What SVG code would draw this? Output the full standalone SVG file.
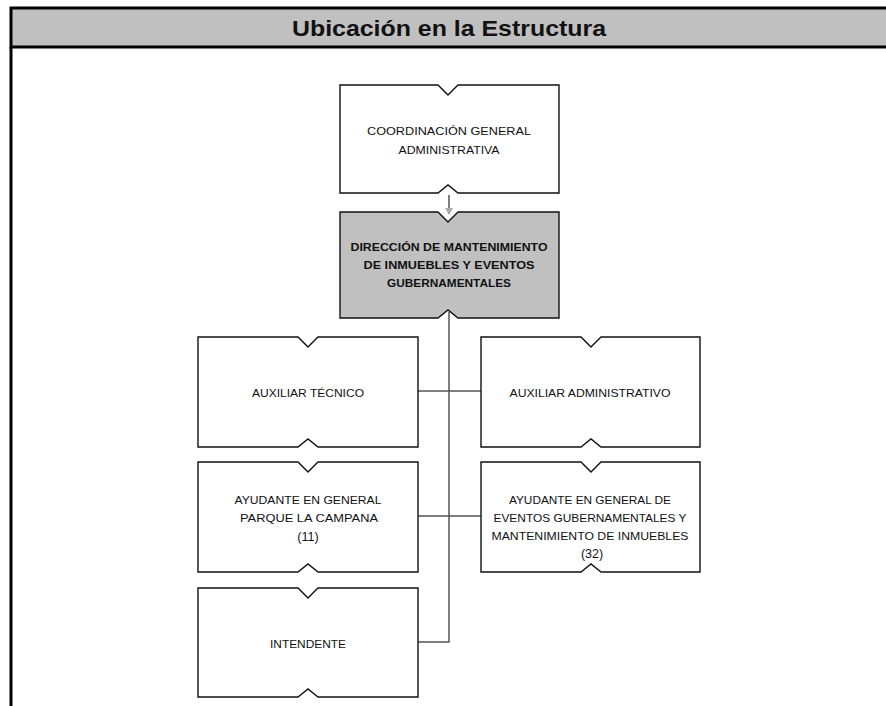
<svg xmlns="http://www.w3.org/2000/svg" width="886" height="706" viewBox="0 0 886 706">
<style>
.node{fill:#fff;stroke:#111;stroke-width:1.4}
.node.hl{fill:#c0c0c0}
.t{font-family:"Liberation Sans",Arial,sans-serif;font-size:11px;fill:#111;text-anchor:middle}
.b{font-weight:bold}
.n{font-size:12.5px}
.conn{stroke:#555;stroke-width:1.5;fill:none}
</style>
<defs>
<marker id="arr" markerWidth="8" markerHeight="8" refX="6" refY="4" orient="auto" markerUnits="userSpaceOnUse">
<path d="M0,0 L7,4 L0,8 Z" fill="#aaa"/>
</marker>
</defs>
<rect x="0" y="0" width="886" height="706" fill="#fff"/>
<g id="frame">
<rect x="11" y="8" width="880" height="39" fill="#c0c0c0" stroke="#000" stroke-width="3"/>
<line x1="11" y1="47" x2="11" y2="706" stroke="#000" stroke-width="3"/>
<text x="449" y="36" font-family="Liberation Sans,Arial,sans-serif" font-size="22" font-weight="bold" text-anchor="middle" fill="#111" textLength="314" lengthAdjust="spacingAndGlyphs">Ubicación en la Estructura</text>
</g>
<g id="connectors">
<line class="conn" x1="449" y1="195" x2="449" y2="214" marker-end="url(#arr)"/>
<path class="conn" d="M449,312 V642 H418"/>
<line class="conn" x1="418" y1="391" x2="481" y2="391"/>
<line class="conn" x1="418" y1="516" x2="481" y2="516"/>
</g>
<g id="n-coord">
<path class="node" d="M340,85 H438 L448,95 L458,85 H559 V193 H458 L448,185 L438,193 H340 Z"/>
<text class="t" x="449" y="135" textLength="164" lengthAdjust="spacingAndGlyphs">COORDINACIÓN GENERAL</text>
<text class="t" x="449" y="154" textLength="101" lengthAdjust="spacingAndGlyphs">ADMINISTRATIVA</text>
</g>
<g id="n-direccion">
<path class="node hl" d="M340,212 H438 L448,222 L458,212 H559 V318 H458 L448,310 L438,318 H340 Z"/>
<text class="t b" x="449" y="251" textLength="197" lengthAdjust="spacingAndGlyphs">DIRECCIÓN DE MANTENIMIENTO</text>
<text class="t b" x="449" y="269" textLength="171" lengthAdjust="spacingAndGlyphs">DE INMUEBLES Y EVENTOS</text>
<text class="t b" x="449" y="287" textLength="124" lengthAdjust="spacingAndGlyphs">GUBERNAMENTALES</text>
</g>
<g id="n-aux-tecnico">
<path class="node" d="M198,337 H298 L308,347 L318,337 H418 V447 H318 L308,439 L298,447 H198 Z"/>
<text class="t" x="308" y="397" textLength="112" lengthAdjust="spacingAndGlyphs">AUXILIAR TÉCNICO</text>
</g>
<g id="n-aux-admin">
<path class="node" d="M481,337 H581 L591,347 L601,337 H700 V447 H601 L591,439 L581,447 H481 Z"/>
<text class="t" x="590" y="397" textLength="161" lengthAdjust="spacingAndGlyphs">AUXILIAR ADMINISTRATIVO</text>
</g>
<g id="n-ayud-parque">
<path class="node" d="M198,462 H298 L308,472 L318,462 H418 V572 H318 L308,564 L298,572 H198 Z"/>
<text class="t" x="308" y="504" textLength="147" lengthAdjust="spacingAndGlyphs">AYUDANTE EN GENERAL</text>
<text class="t" x="309" y="522" textLength="138" lengthAdjust="spacingAndGlyphs">PARQUE LA CAMPANA</text>
<text class="t n" x="308" y="541">(11)</text>
</g>
<g id="n-ayud-eventos">
<path class="node" d="M481,462 H581 L591,472 L601,462 H700 V572 H601 L591,564 L581,572 H481 Z"/>
<text class="t" x="590" y="504" textLength="162" lengthAdjust="spacingAndGlyphs">AYUDANTE EN GENERAL DE</text>
<text class="t" x="590" y="522" textLength="193" lengthAdjust="spacingAndGlyphs">EVENTOS GUBERNAMENTALES Y</text>
<text class="t" x="590" y="540" textLength="197" lengthAdjust="spacingAndGlyphs">MANTENIMIENTO DE INMUEBLES</text>
<text class="t n" x="592" y="558">(32)</text>
</g>
<g id="n-intendente">
<path class="node" d="M198,588 H298 L308,598 L318,588 H418 V697 H318 L308,689 L298,697 H198 Z"/>
<text class="t" x="308" y="648" textLength="76" lengthAdjust="spacingAndGlyphs">INTENDENTE</text>
</g>
</svg>
